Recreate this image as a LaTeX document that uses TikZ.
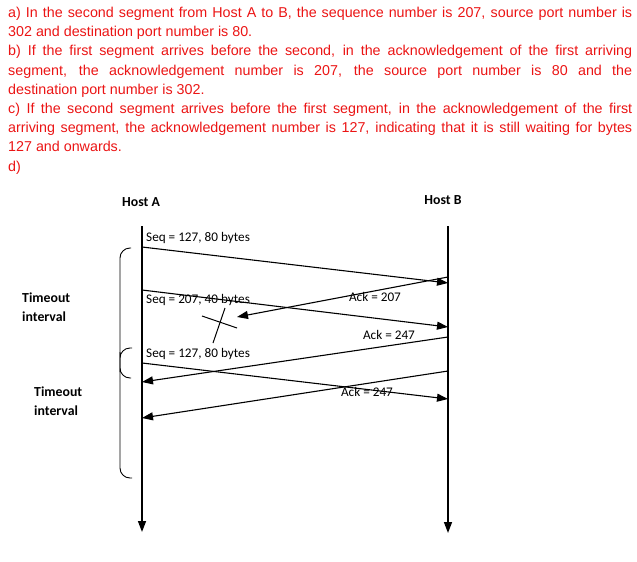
\documentclass[tikz,border=0pt]{standalone}
\usepackage{fontspec}
\usepackage{amsmath}
\usetikzlibrary{arrows.meta}
\setmainfont{Liberation Sans}
\newfontfamily\diagfont{Carlito}
\definecolor{answerred}{RGB}{235,20,20}

\begin{document}
\begin{tikzpicture}[x=1pt, y=-1pt,
    every node/.style={font=\diagfont\fontsize{13.2}{15}\selectfont, inner sep=0pt},
    host/.style={font=\diagfont\bfseries\fontsize{13.8}{15}\selectfont},
    msg/.style={line width=1.1pt, -{Triangle[length=11pt,width=8pt]}},
    life/.style={line width=1.5pt, -{Triangle[length=11pt,width=8pt]}}]
    \useasboundingbox (0,0) rectangle (637,562);

    \node[text width=624pt, align=justify, anchor=north west, text=answerred,
          font=\fontsize{14.3}{19.2}\selectfont] (Q) at (8,7)
      {a) In the second segment from Host A to B, the sequence number is 207, source port number is\linebreak
       302 and destination port number is 80.\par
       b) If the first segment arrives before the second, in the acknowledgement of the first arriving\linebreak
       segment, the acknowledgement number is 207, the source port number is 80 and the\linebreak
       destination port number is 302.\par
       c) If the second segment arrives before the first segment, in the acknowledgement of the first\linebreak
       arriving segment, the acknowledgement number is 127, indicating that it is still waiting for bytes\linebreak
       127 and onwards.\par
       d)};

    \node[host] (HA) at (141,202) {Host A};
    \node[host] (HB) at (443,200) {Host B};

    \coordinate (A0) at (142,226);
    \coordinate (A9) at (142,532);
    \coordinate (B0) at (448,226);
    \coordinate (B9) at (448,533);
    \draw[life] (A0) -- (A9);
    \draw[life] (B0) -- (B9);

    \coordinate (A1) at (142,247);
    \coordinate (B1) at (448,283);
    \coordinate (A2) at (142,290);
    \coordinate (B2) at (448,327);
    \coordinate (B3) at (448,277);
    \coordinate (L3) at (237,317);
    \coordinate (B4) at (448,337);
    \coordinate (A4) at (142,382);
    \coordinate (A5) at (142,363);
    \coordinate (B5) at (448,399);
    \coordinate (B6) at (448,371);
    \coordinate (A6) at (142,418);

    \node[anchor=west] (S1) at (146,238) {Seq = 127, 80 bytes};
    \node[anchor=west] (S2) at (146,300) {Seq = 207, 40 bytes};
    \node (K1) at (375,297) {Ack = 207};
    \node (K2) at (389,335) {Ack = 247};
    \node[anchor=west] (S3) at (146,354) {Seq = 127, 80 bytes};
    \node (K3) at (367,392) {Ack = 247};

    \draw[msg] (A1) -- (B1);
    \draw[msg] (A2) -- (B2);
    \draw[msg] (B3) -- (L3);
    \draw[msg] (B4) -- (A4);
    \draw[msg] (A5) -- (B5);
    \draw[msg] (B6) -- (A6);

    % lost ack
    \coordinate (X1) at (202,316);
    \coordinate (X2) at (237,328);
    \coordinate (X3) at (225,308);
    \coordinate (X4) at (213,343);
    \draw[line width=1pt] (X1) -- (X2);
    \draw[line width=1pt] (X3) -- (X4);

    % timeout brackets
    \coordinate (T1) at (131,248);
    \coordinate (T2) at (132,478);
    \coordinate (T3) at (132,348);
    \coordinate (T4) at (131,378);
    \draw[line width=0.9pt, rounded corners=10pt] (T1) -| (120,360) |- (T2);
    \draw[line width=0.9pt, rounded corners=10pt] (T3) -| (120,362) |- (T4);

    \node[host, anchor=west, align=left] (TO1) at (22,307) {Timeout\\[4pt]interval};
    \node[host, anchor=west, align=left] (TO2) at (34,401) {Timeout\\[4pt]interval};
\end{tikzpicture}
\end{document}
